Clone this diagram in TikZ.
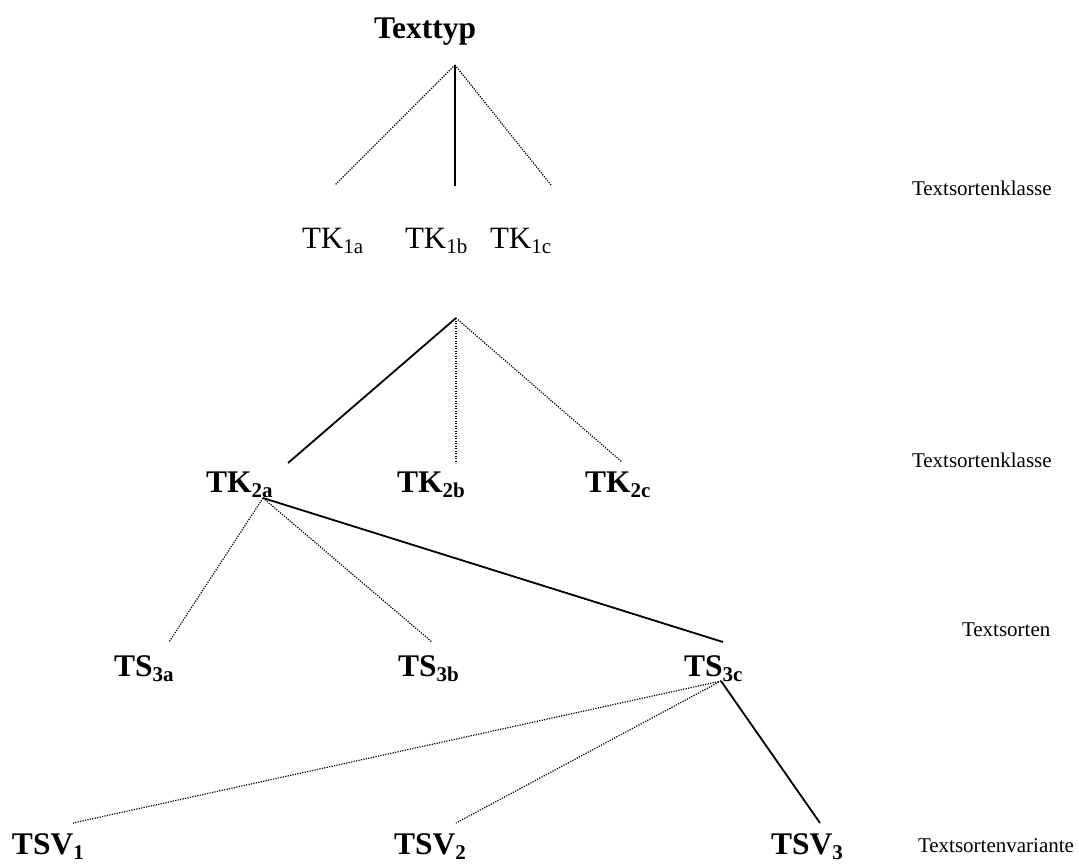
\documentclass[tikz,border=0pt]{standalone}
\usepackage{fontspec}
\setmainfont{Liberation Serif}
\newcommand{\lowsub}[1]{\raisebox{-5pt}{\fontsize{21}{21}\selectfont #1}}
\begin{document}
\begin{tikzpicture}[x=1pt,y=-1pt,
  every node/.style={inner sep=0pt,outer sep=0pt,anchor=base west},
  big/.style={font=\fontsize{31}{31}\selectfont},
  bigb/.style={font=\fontsize{31.5}{31.5}\selectfont\bfseries},
  lvl/.style={font=\fontsize{21}{21}\selectfont},
  solidline/.style={line width=1.8pt},
  dotline/.style={line width=1.2pt,dash pattern=on 1.2pt off 1.3pt}]
\useasboundingbox (0,0) rectangle (1079,863);
% nodes
\node[bigb] (tt) at (374,38) {Texttyp};
\node[big] (tk1a) at (302,248) {TK\lowsub{1a}};
\node[big] (tk1b) at (405,248) {TK\lowsub{1b}};
\node[big] (tk1c) at (490,248) {TK\lowsub{1c}};
\node[bigb] (tk2a) at (206,492) {TK\lowsub{2a}};
\node[bigb] (tk2b) at (397,492) {TK\lowsub{2b}};
\node[bigb] (tk2c) at (585,492) {TK\lowsub{2c}};
\node[bigb] (ts3a) at (114,676) {TS\lowsub{3a}};
\node[bigb] (ts3b) at (398,676) {TS\lowsub{3b}};
\node[bigb] (ts3c) at (684,676) {TS\lowsub{3c}};
\node[bigb] (tsv1) at (12,854) {TSV\lowsub{1}};
\node[bigb] (tsv2) at (394,854) {TSV\lowsub{2}};
\node[bigb] (tsv3) at (771,854) {TSV\lowsub{3}};
\node[lvl] (l1) at (912,195) {Textsortenklasse};
\node[lvl] (l2) at (912,467) {Textsortenklasse};
\node[lvl] (l3) at (962,636) {Textsorten};
\node[lvl] (l4) at (918,852) {Textsortenvariante};
% connection points
\coordinate (a1) at (455,65);
\coordinate (e1a) at (335,185);
\coordinate (e1b) at (455,186);
\coordinate (e1c) at (551,185);
\coordinate (a2) at (456,318);
\coordinate (e2a) at (288,463);
\coordinate (e2b) at (456,463);
\coordinate (e2c) at (622,462);
\coordinate (a3) at (263,498);
\coordinate (e3a) at (169,642);
\coordinate (e3b) at (432,642);
\coordinate (e3c) at (723,642);
\coordinate (a4) at (721,681);
\coordinate (e4a) at (73,823);
\coordinate (e4b) at (456,823);
\coordinate (e4c) at (820,823);
% connectors
\draw[dotline] (a1) -- (e1a);
\draw[solidline] (a1) -- (e1b);
\draw[dotline] (a1) -- (e1c);
\draw[solidline] (a2) -- (e2a);
\draw[dotline] (a2) -- (e2b);
\draw[dotline] (a2) -- (e2c);
\draw[dotline] (a3) -- (e3a);
\draw[dotline] (a3) -- (e3b);
\draw[solidline] (a3) -- (e3c);
\draw[dotline] (a4) -- (e4a);
\draw[dotline] (a4) -- (e4b);
\draw[solidline] (a4) -- (e4c);
\end{tikzpicture}
\end{document}
